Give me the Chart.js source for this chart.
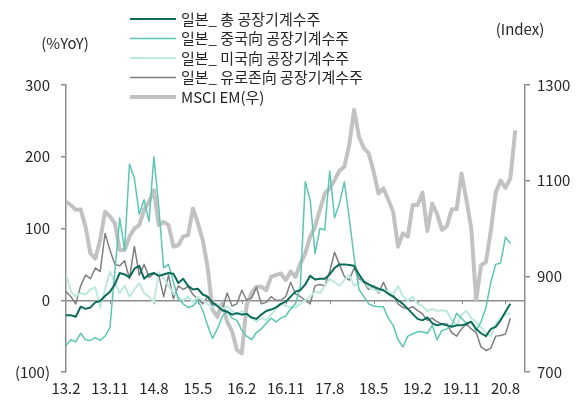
<!DOCTYPE html>
<html><head><meta charset="utf-8">
<script src="https://cdn.jsdelivr.net/npm/chart.js@4.4.1/dist/chart.umd.min.js"></script>
<style>html,body{margin:0;padding:0;background:#fff;}#wrap{width:586px;height:401px;position:relative;}</style>
</head><body><div id="wrap"><canvas id="c" width="586" height="401"></canvas></div>
<script>
// x tick labels (every 9 months from 2013.2)
const xTickLabels = ['13.2','13.11','14.8','15.5','16.2','16.11','17.8','18.5','19.2','19.11','20.8'];
const leftTicks = [-100, 0, 100, 200, 300];
const leftTickLabels = ['(100)', '0', '100', '200', '300'];
const rightTicks = [700, 900, 1100, 1300];
const rightTickLabels = ['700', '900', '1100', '1300'];
const seriesNames = ['일본_ 총 공장기계수주', '일본_ 중국向 공장기계수주', '일본_ 미국向 공장기계수주', '일본_ 유로존向 공장기계수주', 'MSCI EM(우)'];

const totalOrders = [-21,-21,-23,-9,-12,-10,-3,-1,6,12,22,38,36,32,44,48,30,36,38,34,36,38,37,24,
30,20,15,16,8,5,-3,-8,-14,-16,-20,-18,-20,-19,-24,-26,-20,-15,-13,-10,-5,-2,5,
12,14,22,34,29,30,30,36,45,50,50,49,48,36,26,22,19,16,14,9,5,0,-5,-12,
-19,-26,-28,-24,-32,-35,-33,-35,-37,-35,-35,-33,-30,-40,-46,-50,-40,-37,-28,-16,-5];
const chinaOrders = [-63,-55,-58,-46,-55,-56,-52,-56,-50,-38,40,115,70,190,170,120,140,110,200,130,45,50,25,2,
-5,-10,-8,0,-14,-35,-53,-40,-23,-15,-25,-28,-42,-50,-55,-45,-40,-32,-25,-30,-25,-22,-12,
-5,20,165,140,65,100,98,180,115,135,165,115,60,15,5,-5,-8,-9,-9,-25,-35,-55,-65,-50,
-47,-44,-44,-46,-35,-55,-42,-40,-35,-18,-25,-32,-30,-42,-30,-10,25,50,52,88,79];
const usOrders = [37,12,5,10,8,15,18,-10,15,40,25,10,20,5,15,24,10,5,-3,39,31,20,10,5,0,5,-3,5,
0,-5,-10,-5,-12,-8,-15,-20,-15,-20,-25,-30,-25,-28,-20,-12,-5,-8,-10,
-10,-5,0,5,12,10,20,30,25,20,28,35,20,25,28,18,15,12,15,12,8,20,5,0,
5,-5,-8,-15,-12,-15,-14,-15,-28,-35,-20,-15,-25,-30,-38,-45,-50,-33,-25,-20,-18];
const euroOrders = [12,5,-5,20,35,30,45,40,93,70,50,48,55,30,75,35,50,32,37,35,5,35,2,20,
15,19,8,2,-5,5,-7,-5,-14,10,-8,-5,14,0,3,18,-5,-3,5,0,0,5,25,
9,5,0,-5,20,22,20,40,67,50,33,28,45,30,25,15,20,10,25,10,8,-5,-10,-12,
-9,-14,-19,-28,-25,-30,-33,-33,-45,-50,-40,-33,-40,-45,-65,-70,-67,-50,-49,-47,-25];
const msciEM = [1056,1049,1039,1040,1004,948,937,976,1035,1025,1011,955,955,983,1000,1007,1039,1056,1080,1007,1014,1007,962,965,
983,986,1042,1011,976,920,830,815,845,805,785,746,739,840,865,878,878,871,899,903,906,892,910,
899,927,948,983,1004,1039,1073,1084,1101,1121,1129,1174,1248,1192,1168,1157,1119,1073,1084,1060,1035,962,990,983,
1049,1049,1075,995,1052,1030,997,1005,1040,1040,1115,1060,1000,850,923,930,995,1075,1100,1085,1105,1205];

const FONT = '"Noto Sans CJK KR", "Noto Sans", sans-serif';
const TXT = '#262626';
const AX = '#8c8c8c';
const toPts = arr => arr.map((v, i) => ({x: i, y: v}));

function ds(label, data, color, width, axis) {
  return {label, data: toPts(data), borderColor: color, backgroundColor: color, borderWidth: width,
    pointRadius: 0, tension: 0, yAxisID: axis, borderJoinStyle: 'round', legendWidth: width};
}

const zeroTicks = {
  id: 'zeroTicks',
  beforeDatasetsDraw(chart) {
    const {ctx} = chart; const x = chart.scales.x, y = chart.scales.y;
    const y0 = y.getPixelForValue(0);
    ctx.save(); ctx.strokeStyle = AX; ctx.lineWidth = 1;
    x.ticks.forEach(t => {
      if (t.value > x.min) {
        const px = Math.round(x.getPixelForValue(t.value)) + 0.5;
        ctx.beginPath(); ctx.moveTo(px, y0); ctx.lineTo(px, y0 + 4); ctx.stroke();
      }
    });
    ctx.restore();
  }
};

const sideLegend = {
  id: 'sideLegend',
  afterDraw(chart) {
    const ctx = chart.ctx;
    ctx.save();
    ctx.font = '15px ' + FONT;
    ctx.textBaseline = 'middle'; ctx.fillStyle = TXT; ctx.textAlign = 'left';
    chart.data.datasets.forEach((d, k) => {
      const yy = 19 + k * 19.5;
      ctx.strokeStyle = d.borderColor; ctx.lineWidth = d.legendWidth;
      ctx.beginPath(); ctx.moveTo(130, yy); ctx.lineTo(176, yy); ctx.stroke();
      ctx.fillText(d.label, 181, yy);
    });
    ctx.textAlign = 'center';
    ctx.fillText('(%YoY)', 65, 43);
    ctx.fillText('(Index)', 520, 29);
    ctx.restore();
  }
};

new Chart(document.getElementById('c'), {
  type: 'line',
  data: {
    datasets: [
      ds(seriesNames[0], totalOrders, '#0d6b5c', 2, 'y'),
      ds(seriesNames[1], chinaOrders, '#5cc6b5', 1.5, 'y'),
      ds(seriesNames[2], usOrders, '#bfe8e0', 2, 'y'),
      ds(seriesNames[3], euroOrders, '#7f7f7f', 1.5, 'y'),
      ds(seriesNames[4], msciEM, '#c2c2c2', 4, 'y1')
    ]
  },
  options: {
    responsive: false, animation: false, devicePixelRatio: 1,
    layout: {padding: {top: 85, left: 0, right: 0, bottom: 0}},
    plugins: {legend: {display: false}, tooltip: {enabled: false}},
    scales: {
      x: {
        type: 'linear', min: 0, max: 94,
        grid: {display: false, drawTicks: false}, border: {display: false},
        afterBuildTicks: s => { s.ticks = xTickLabels.map((_, i) => ({value: i * 9})); },
        ticks: {autoSkip: false, maxRotation: 0, padding: 7, color: TXT, font: {family: FONT, size: 15},
          callback: (v) => xTickLabels[Math.round(v / 9)]},
        afterFit: s => { s.height = 29; }
      },
      y: {
        position: 'left', min: -100, max: 300,
        afterBuildTicks: s => { s.ticks = leftTicks.map(v => ({value: v})); },
        ticks: {padding: 11, color: TXT, font: {family: FONT, size: 15},
          callback: (v) => leftTickLabels[leftTicks.indexOf(v)]},
        grid: {color: c => (c.tick && c.tick.value === 0) ? AX : 'rgba(0,0,0,0)', lineWidth: 1.5,
          tickColor: AX, tickLength: 5, drawTicks: true},
        border: {display: true, color: AX, width: 1.5},
        afterFit: s => { s.width = 66; }
      },
      y1: {
        position: 'right', min: 700, max: 1300,
        afterBuildTicks: s => { s.ticks = rightTicks.map(v => ({value: v})); },
        ticks: {padding: 7, color: TXT, font: {family: FONT, size: 15},
          callback: (v) => rightTickLabels[rightTicks.indexOf(v)]},
        grid: {drawOnChartArea: false, tickColor: AX, tickLength: 5, lineWidth: 1.5},
        border: {display: true, color: AX, width: 1.5},
        afterFit: s => { s.width = 61; }
      }
    }
  },
  plugins: [zeroTicks, sideLegend]
});
</script>
</body></html>
